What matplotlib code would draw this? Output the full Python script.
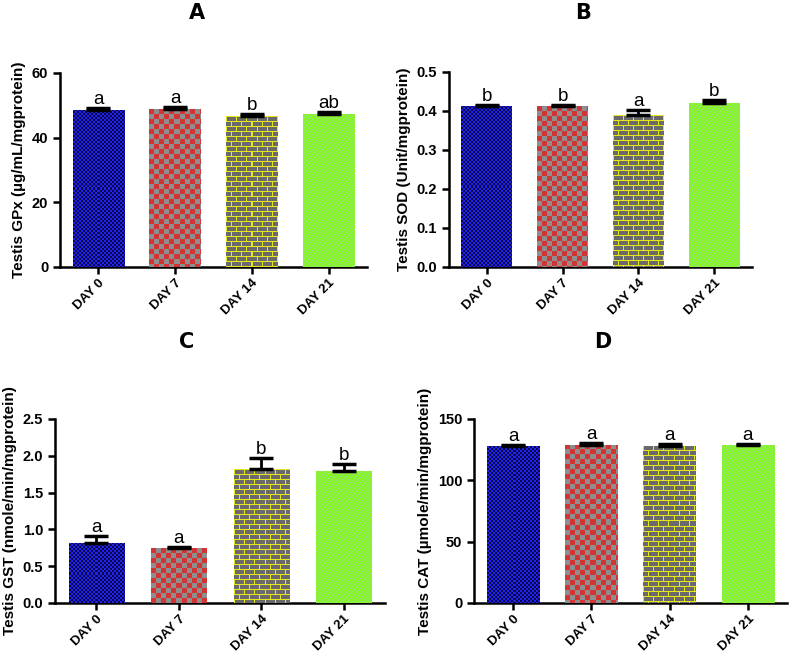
import matplotlib

matplotlib.use("Agg")
import matplotlib.pyplot as plt
import numpy as np

plt.rcParams["font.family"] = ["Liberation Sans", "DejaVu Sans"]

DAYS = ["DAY 0", "DAY 7", "DAY 14", "DAY 21"]

GPX = [48.6, 48.8, 46.7, 47.4]
GPX_ERR = [0.5, 0.6, 0.7, 0.4]
GPX_LETTERS = ["a", "a", "b", "ab"]

SOD = [0.414, 0.412, 0.389, 0.421]
SOD_ERR = [0.002, 0.004, 0.013, 0.006]
SOD_LETTERS = ["b", "b", "a", "b"]

GST = [0.82, 0.746, 1.82, 1.80]
GST_ERR = [0.094, 0.018, 0.15, 0.09]
GST_LETTERS = ["a", "a", "b", "b"]

CAT = [127.6, 129.0, 128.2, 128.5]
CAT_ERR = [1.4, 1.4, 1.1, 1.3]
CAT_LETTERS = ["a", "a", "a", "a"]

PANELS = [
    # title, values, errors, letters, ylabel, yticks, fmt,
    # axes box in px (l, t, r, b), title pos in px, stripe dir
    ("A", GPX, GPX_ERR, GPX_LETTERS, "Testis GPx (\u00b5g/mL/mgprotein)",
     [0, 20, 40, 60], "{:.0f}", (60, 73, 367, 267), (197, 13), 1),
    ("B", SOD, SOD_ERR, SOD_LETTERS, "Testis SOD (Unit/mgprotein)",
     [0.0, 0.1, 0.2, 0.3, 0.4, 0.5], "{:.1f}", (449, 72, 752, 267), (583, 13), 1),
    ("C", GST, GST_ERR, GST_LETTERS, "Testis GST (nmole/min/mgprotein)",
     [0.0, 0.5, 1.0, 1.5, 2.0, 2.5], "{:.1f}", (55, 419, 385, 603), (187, 342), 1),
    ("D", CAT, CAT_ERR, CAT_LETTERS, "Testis CAT (\u00b5mole/min/mgprotein)",
     [0, 50, 100, 150], "{:.0f}", (474, 419, 787, 603), (603, 342), -1),
]

W, H = 789, 653


def rgb(h):
    h = h.lstrip("#")
    return np.array([int(h[i:i + 2], 16) for i in (0, 2, 4)]) / 255.0


def texture(kind, hpx, wpx, direction):
    yy, xx = np.mgrid[0:hpx, 0:wpx]
    img = np.zeros((hpx, wpx, 3))
    if kind == 0:  # fine blue / navy checker
        m = ((xx // 2) + (yy // 2)) % 2 == 0
        img[m] = rgb("#2222f0")
        img[~m] = rgb("#08084a")
    elif kind == 1:  # red / grey checker
        m = ((xx // 5) + (yy // 5)) % 2 == 0
        img[m] = rgb("#d23434")
        img[~m] = rgb("#8e8e8e")
    elif kind == 2:  # grey bricks, yellow mortar
        img[:] = rgb("#6a6a6a")
        row = yy // 5
        mortar = (yy % 5 == 0) | (((xx + (row % 2) * 5) % 10) == 0)
        img[mortar] = rgb("#e6e61e")
    else:  # green with faint diagonal stripes
        img[:] = rgb("#84f526")
        stripe = ((xx + direction * yy) % 5) == 0
        img[stripe] = rgb("#a8d890")
    return img


fig = plt.figure(figsize=(W / 100, H / 100), dpi=100)

for title, vals, errs, letters, ylabel, yticks, fmt, box, tpos, sdir in PANELS:
    l, t, r, b = box
    ax = fig.add_axes([l / W, 1 - b / H, (r - l) / W, (b - t) / H])
    x = np.arange(len(DAYS))
    ax.set_xlim(-0.5, len(DAYS) - 0.5)
    ax.set_ylim(yticks[0], yticks[-1])
    bars = ax.bar(x, vals, width=0.67, color="white", edgecolor="none", zorder=2)
    ax.errorbar(x, vals, yerr=[np.zeros(len(vals)), errs], fmt="none",
                ecolor="black", elinewidth=2, capsize=8.5, capthick=2.5, zorder=4)

    # fill each bar with its pixel texture, clipped to the bar
    for k, bar in enumerate(bars):
        x0, x1 = bar.get_x(), bar.get_x() + bar.get_width()
        y0, y1 = 0, bar.get_height()
        (px0, py0), (px1, py1) = ax.transData.transform([(x0, y0), (x1, y1)])
        img = texture(k, max(int(round(py1 - py0)), 2), max(int(round(px1 - px0)), 2), sdir)
        im = ax.imshow(img, extent=(x0, x1, y0, y1), origin="upper",
                       interpolation="nearest", aspect="auto", zorder=3)
        im.set_clip_path(bar)

    for xi, v, e, s in zip(x, vals, errs, letters):
        ax.annotate(s, (xi, v + e), xytext=(0, 0), textcoords="offset points",
                    ha="center", va="bottom", fontsize=13.5, zorder=5)

    ax.set_yticks(yticks)
    ax.set_yticklabels([fmt.format(v) for v in yticks], fontweight="bold", fontsize=10.5)
    ax.set_xticks(x)
    ax.set_xticklabels(DAYS, rotation=45, ha="right", rotation_mode="anchor",
                       fontweight="bold", fontsize=9.5)
    ax.set_ylabel(ylabel, fontweight="bold", fontsize=11)
    for side in ("top", "right"):
        ax.spines[side].set_visible(False)
    for side in ("left", "bottom"):
        ax.spines[side].set_linewidth(1.8)
    ax.tick_params(width=1.8, length=5, direction="out")
    ax.tick_params(axis="x", pad=2)

    fig.text(tpos[0] / W, 1 - tpos[1] / H, title, ha="center", va="center",
             fontsize=15, fontweight="bold", family="DejaVu Sans")

fig.savefig("out.png", dpi=100)
